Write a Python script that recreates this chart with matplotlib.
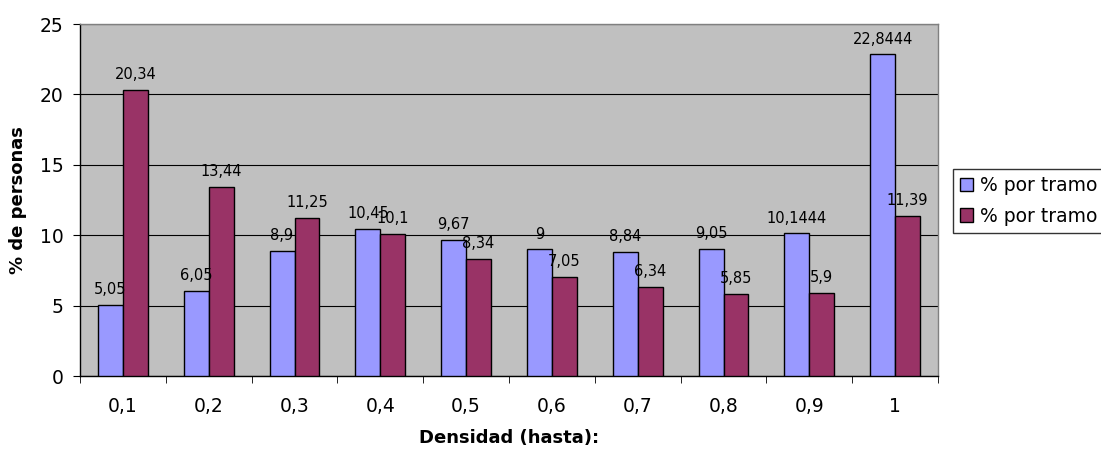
import matplotlib
matplotlib.use("Agg")
import matplotlib.pyplot as plt
import numpy as np

categories = ["0,1", "0,2", "0,3", "0,4", "0,5", "0,6", "0,7", "0,8", "0,9", "1"]
serie1 = [5.05, 6.05, 8.9, 10.45, 9.67, 9, 8.84, 9.05, 10.1444, 22.8444]
serie2 = [20.34, 13.44, 11.25, 10.1, 8.34, 7.05, 6.34, 5.85, 5.9, 11.39]
labels1 = ["5,05", "6,05", "8,9", "10,45", "9,67", "9", "8,84", "9,05", "10,1444", "22,8444"]
labels2 = ["20,34", "13,44", "11,25", "10,1", "8,34", "7,05", "6,34", "5,85", "5,9", "11,39"]
legend_labels = ["% por tramo", "% por tramo"]

plt.rcParams['font.family'] = ['DejaVu Sans']

fig = plt.figure(figsize=(11.01, 4.49), dpi=100)
ax = fig.add_axes([80/1101, 1 - 376/449, (938-80)/1101, (376-24)/449])
ax.set_facecolor("#C0C0C0")

x = np.arange(len(categories))
w = 0.29
b1 = ax.bar(x - w/2, serie1, w, color="#9999FF", edgecolor="black", linewidth=1, label=legend_labels[0], zorder=3)
b2 = ax.bar(x + w/2, serie2, w, color="#993366", edgecolor="black", linewidth=1, label=legend_labels[1], zorder=3)

for xi, v, t in zip(x - w/2, serie1, labels1):
    ax.annotate(t, (xi, v), xytext=(0, 5.5), textcoords="offset points", ha="center", va="bottom", fontsize=10.5, zorder=4)
for xi, v, t in zip(x + w/2, serie2, labels2):
    ax.annotate(t, (xi, v), xytext=(0, 5.5), textcoords="offset points", ha="center", va="bottom", fontsize=10.5, zorder=4)

ax.set_xlim(-0.5, len(categories) - 0.5)
ax.set_ylim(0, 25)
ax.set_yticks([0, 5, 10, 15, 20, 25])
ax.set_yticklabels(["0", "5", "10", "15", "20", "25"], fontsize=13.5)
ax.set_xticks(x)
ax.set_xticklabels(categories, fontsize=13.5)
ax.set_xticks(np.arange(len(categories) + 1) - 0.5, minor=True)
ax.tick_params(axis="x", which="major", length=0, pad=15)
ax.tick_params(axis="x", which="minor", length=5, color="black")
ax.tick_params(axis="y", length=5, color="black", pad=7)

ax.yaxis.grid(True, color="black", linewidth=0.8, zorder=1)
ax.set_axisbelow(True)

for s in ["top", "right"]:
    ax.spines[s].set_color("#808080")
    ax.spines[s].set_linewidth(1)
for s in ["left", "bottom"]:
    ax.spines[s].set_color("black")
    ax.spines[s].set_linewidth(1)

ax.set_ylabel("% de personas", fontsize=13, fontweight="bold")
ax.yaxis.set_label_coords((27 - 80) / 858, 0.5)
ax.set_xlabel("Densidad (hasta):", fontsize=13, fontweight="bold")
ax.xaxis.set_label_coords(0.5, (376 - 429) / 352)

leg = fig.legend(handles=[b1, b2], labels=legend_labels, loc="upper left",
                 bbox_to_anchor=(953/1101, 1 - 169/449), frameon=True, fancybox=False,
                 fontsize=13.5, handlelength=0.7, handleheight=0.72, handletextpad=0.37,
                 borderpad=0.37, labelspacing=0.62, borderaxespad=0)
leg.get_frame().set_edgecolor("black")
leg.get_frame().set_linewidth(1)

fig.savefig("out.png", dpi=100)
